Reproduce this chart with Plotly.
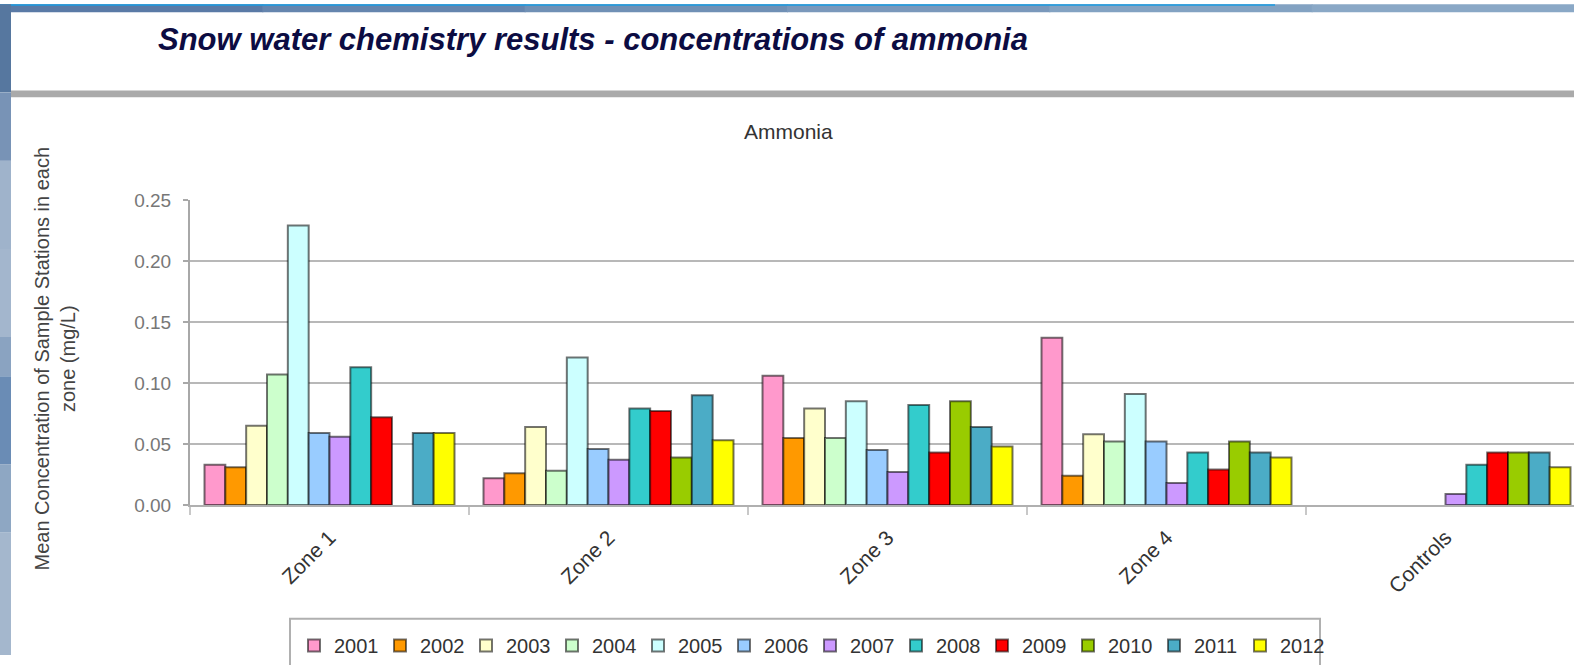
import plotly.graph_objects as go

# ---------------- data ----------------
zones = ["Zone 1", "Zone 2", "Zone 3", "Zone 4", "Controls"]
years = ["2001", "2002", "2003", "2004", "2005", "2006",
         "2007", "2008", "2009", "2010", "2011", "2012"]

v2001 = [0.033, 0.022, 0.106, 0.137, None]
v2002 = [0.031, 0.026, 0.055, 0.024, None]
v2003 = [0.065, 0.064, 0.079, 0.058, None]
v2004 = [0.107, 0.028, 0.055, 0.052, None]
v2005 = [0.229, 0.121, 0.085, 0.091, None]
v2006 = [0.059, 0.046, 0.045, 0.052, None]
v2007 = [0.056, 0.037, 0.027, 0.018, 0.009]
v2008 = [0.113, 0.079, 0.082, 0.043, 0.033]
v2009 = [0.072, 0.077, 0.043, 0.029, 0.043]
v2010 = [None, 0.039, 0.085, 0.052, 0.043]
v2011 = [0.059, 0.090, 0.064, 0.043, 0.043]
v2012 = [0.059, 0.053, 0.048, 0.039, 0.031]

series = [v2001, v2002, v2003, v2004, v2005, v2006,
          v2007, v2008, v2009, v2010, v2011, v2012]

colors = ["#FF99CC", "#FF9900", "#FFFFCC", "#CCFFCC", "#CCFFFF", "#99CCFF",
          "#CC99FF", "#33CCCC", "#FF0000", "#99CC00", "#4BACC6", "#FFFF00"]

y_ticks = [0.00, 0.05, 0.10, 0.15, 0.20, 0.25]

# ---------------- layout geometry (pixels) ----------------
W, H = 1574, 665
L, R = 190, 0
TOP, BOT = 200.0, 511.7
PW = W - L - R
PH = BOT - TOP
CAT_W = 279.0


def X(px):
    return (px - L) / PW


def Y(py):
    return (BOT - py) / PH


FONT = "Liberation Sans, Arial, sans-serif"

fig = go.Figure()
for name, vals, col in zip(years, series, colors):
    fig.add_trace(go.Bar(
        name=name, x=zones, y=vals,
        marker=dict(color=col, line=dict(color="rgba(0,0,0,0.55)", width=2)),
    ))

shapes = []
# page decoration: top blue strip (gradient approximated)
top_cols = ["#5a7aa6", "#6585ae", "#7090b5", "#7a98bb", "#83a2c2", "#8aa8c6"]
seg = W / len(top_cols)
for i, c in enumerate(top_cols):
    shapes.append(dict(type="rect", xref="paper", yref="paper",
                       x0=X(i * seg), x1=X((i + 1) * seg + 1), y0=Y(8), y1=Y(0),
                       fillcolor=c, line=dict(width=0), layer="above"))
shapes.append(dict(type="rect", xref="paper", yref="paper",
                   x0=X(0), x1=X(1275), y0=Y(1.5), y1=Y(0),
                   fillcolor="#1a9be0", line=dict(width=0), layer="above"))
# left blue strip
left_cols = [(0, 90, "#56779f"), (90, 160, "#7893b6"), (160, 250, "#9fb3cb"),
             (250, 340, "#a3b6cd"), (340, 380, "#8aa3c1"), (380, 470, "#6a8cb5"),
             (470, 540, "#8ea7c3"), (540, 665, "#a4b7cd")]
for a, b, c in left_cols:
    shapes.append(dict(type="rect", xref="paper", yref="paper",
                       x0=X(0), x1=X(11), y0=Y(b), y1=Y(a),
                       fillcolor=c, line=dict(width=0), layer="above"))
# grey rule under the page heading
shapes.append(dict(type="rect", xref="paper", yref="paper",
                   x0=X(11), x1=X(W + 2), y0=Y(95), y1=Y(88),
                   fillcolor="#aaaaaa", line=dict(width=0), layer="above"))
# legend box (bottom edge is outside the window)
shapes.append(dict(type="rect", xref="paper", yref="paper",
                   x0=X(290), x1=X(1320), y0=Y(700), y1=Y(628),
                   fillcolor="rgba(0,0,0,0)", line=dict(color="#b0b0b0", width=2),
                   layer="below"))

annotations = [
    dict(text="Ammonia", xref="paper", yref="paper", x=X(788), y=Y(130),
         xanchor="center", yanchor="middle", showarrow=False,
         font=dict(family=FONT, size=21, color="#333333")),
    dict(text="Mean Concentration of Sample Stations in each<br>zone (mg/L)",
         xref="paper", yref="paper", x=X(55), y=Y(362), textangle=-90,
         xanchor="center", yanchor="middle", showarrow=False,
         font=dict(family=FONT, size=20, color="#444444")),
]

fig.update_layout(
    width=W, height=H, autosize=False,
    margin=dict(l=L, r=R, t=TOP, b=H - BOT, pad=0),
    paper_bgcolor="white", plot_bgcolor="white",
    barmode="group", bargap=29 / CAT_W, bargroupgap=0,
    title=dict(text="<b><i>Snow water chemistry results - concentrations of ammonia</i></b>",
               xref="container", yref="container", x=158 / W, xanchor="left",
               y=1 - 39 / H, yanchor="middle",
               font=dict(family=FONT, size=31, color="#0c0c42")),
    showlegend=True,
    legend=dict(orientation="h", x=X(294), y=Y(636), xanchor="left", yanchor="top",
                entrywidth=41, entrywidthmode="pixels", borderwidth=0,
                bgcolor="rgba(0,0,0,0)",
                font=dict(family=FONT, size=20, color="#333333"),
                traceorder="normal"),
    shapes=shapes,
    annotations=annotations,
    font=dict(family=FONT),
)

fig.update_xaxes(
    range=[-0.5, -0.5 + PW / CAT_W],
    showline=True, linecolor="#b0b0b0", linewidth=2,
    ticks="outside", tickson="boundaries", ticklen=8, tickcolor="#c8c8c8", tickwidth=2,
    tickangle=-45, ticklabelstandoff=10,
    tickfont=dict(family=FONT, size=21, color="#333333"),
    showgrid=False, zeroline=False, fixedrange=True,
)
fig.update_yaxes(
    range=[0, 0.25], tickvals=y_ticks, tickformat=".2f",
    showline=True, linecolor="#a8a8a8", linewidth=2,
    ticks="outside", ticklen=5, tickcolor="#a8a8a8", tickwidth=2,
    ticklabelstandoff=8,
    tickfont=dict(family=FONT, size=19, color="#777777"),
    showgrid=True, gridcolor="#b8b8b8", gridwidth=2, zeroline=False, fixedrange=True,
)

fig.write_html("out.html",
               config={"displayModeBar": False},
               post_script="document.body.style.margin='0';document.body.style.overflow='hidden';")
